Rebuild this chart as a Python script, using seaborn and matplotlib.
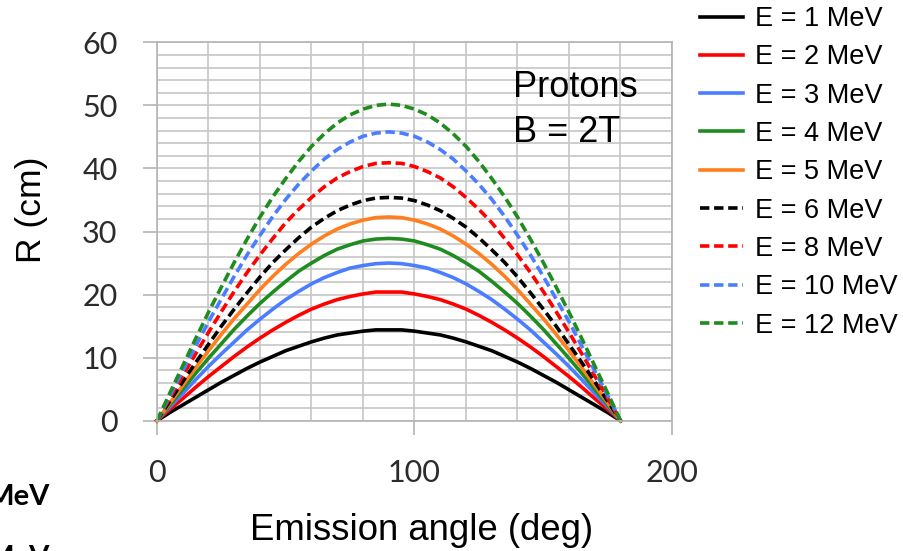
import numpy as np
import pandas as pd
import matplotlib
matplotlib.use("Agg")
import matplotlib.pyplot as plt
import seaborn as sns

# Emission angle (deg), every 5 degrees
angles = list(range(0, 181, 5))

# R (cm), one list per energy
r_1mev = [0, 1.3, 2.5, 3.7, 4.9, 6.1, 7.2, 8.3, 9.3, 10.2, 11.1, 11.8, 12.5, 13.1, 13.6, 13.9, 14.2, 14.4, 14.4,
          14.4, 14.2, 13.9, 13.6, 13.1, 12.5, 11.8, 11.1, 10.2, 9.3, 8.3, 7.2, 6.1, 4.9, 3.7, 2.5, 1.3, 0]
r_2mev = [0, 1.8, 3.5, 5.3, 7.0, 8.6, 10.2, 11.7, 13.1, 14.4, 15.6, 16.7, 17.7, 18.5, 19.2, 19.7, 20.1, 20.4, 20.4,
          20.4, 20.1, 19.7, 19.2, 18.5, 17.7, 16.7, 15.6, 14.4, 13.1, 11.7, 10.2, 8.6, 7.0, 5.3, 3.5, 1.8, 0]
r_3mev = [0, 2.2, 4.3, 6.5, 8.6, 10.6, 12.5, 14.4, 16.1, 17.7, 19.2, 20.5, 21.7, 22.7, 23.5, 24.2, 24.6, 24.9, 25.0,
          24.9, 24.6, 24.2, 23.5, 22.7, 21.7, 20.5, 19.2, 17.7, 16.1, 14.4, 12.5, 10.6, 8.6, 6.5, 4.3, 2.2, 0]
r_4mev = [0, 2.5, 5.0, 7.5, 9.9, 12.2, 14.5, 16.6, 18.6, 20.4, 22.1, 23.7, 25.0, 26.2, 27.2, 27.9, 28.5, 28.8, 28.9,
          28.8, 28.5, 27.9, 27.2, 26.2, 25.0, 23.7, 22.1, 20.4, 18.6, 16.6, 14.5, 12.2, 9.9, 7.5, 5.0, 2.5, 0]
r_5mev = [0, 2.8, 5.6, 8.4, 11.1, 13.7, 16.2, 18.5, 20.8, 22.9, 24.8, 26.5, 28.0, 29.3, 30.4, 31.2, 31.8, 32.2, 32.3,
          32.2, 31.8, 31.2, 30.4, 29.3, 28.0, 26.5, 24.8, 22.9, 20.8, 18.5, 16.2, 13.7, 11.1, 8.4, 5.6, 2.8, 0]
r_6mev = [0, 3.1, 6.2, 9.2, 12.1, 15.0, 17.7, 20.3, 22.8, 25.1, 27.1, 29.0, 30.7, 32.1, 33.3, 34.2, 34.9, 35.3, 35.4,
          35.3, 34.9, 34.2, 33.3, 32.1, 30.7, 29.0, 27.1, 25.1, 22.8, 20.3, 17.7, 15.0, 12.1, 9.2, 6.2, 3.1, 0]
r_8mev = [0, 3.6, 7.1, 10.6, 14.0, 17.3, 20.5, 23.5, 26.3, 28.9, 31.4, 33.5, 35.4, 37.1, 38.5, 39.5, 40.3, 40.8, 40.9,
          40.8, 40.3, 39.5, 38.5, 37.1, 35.4, 33.5, 31.4, 28.9, 26.3, 23.5, 20.5, 17.3, 14.0, 10.6, 7.1, 3.6, 0]
r_10mev = [0, 4.0, 7.9, 11.8, 15.7, 19.3, 22.9, 26.3, 29.4, 32.4, 35.1, 37.5, 39.6, 41.5, 43.0, 44.2, 45.1, 45.6, 45.8,
           45.6, 45.1, 44.2, 43.0, 41.5, 39.6, 37.5, 35.1, 32.4, 29.4, 26.3, 22.9, 19.3, 15.7, 11.8, 7.9, 4.0, 0]
r_12mev = [0, 4.4, 8.7, 13.0, 17.2, 21.2, 25.1, 28.8, 32.3, 35.5, 38.4, 41.1, 43.5, 45.5, 47.2, 48.5, 49.4, 50.0, 50.2,
           50.0, 49.4, 48.5, 47.2, 45.5, 43.5, 41.1, 38.4, 35.5, 32.3, 28.8, 25.1, 21.2, 17.2, 13.0, 8.7, 4.4, 0]

labels = ["E = 1 MeV", "E = 2 MeV", "E = 3 MeV", "E = 4 MeV", "E = 5 MeV",
          "E = 6 MeV", "E = 8 MeV", "E = 10 MeV", "E = 12 MeV"]
all_r = [r_1mev, r_2mev, r_3mev, r_4mev, r_5mev, r_6mev, r_8mev, r_10mev, r_12mev]

# styles
colors = ["#000000", "#ff0000", "#4a7dff", "#1e8c1e", "#ff7f1e",
          "#000000", "#ff0000", "#4a7dff", "#1e8c1e"]
dashed = [False, False, False, False, False, True, True, True, True]

df = pd.DataFrame({
    "angle": angles * len(labels),
    "R": [v for r in all_r for v in r],
    "series": [lab for lab in labels for _ in angles],
})

fig = plt.figure(figsize=(9.04, 5.51), dpi=100)
W, H = 904, 551
ax = fig.add_axes([157 / W, 1 - 420.7 / H, 515 / W, 378.4 / H])

for lab, c, d in zip(labels, colors, dashed):
    ls = (0, (2.6, 1.3)) if d else "-"
    sns.lineplot(data=df[df["series"] == lab], x="angle", y="R", ax=ax,
                 color=c, lw=2.6, linestyle=ls, label=lab, sort=False,
                 errorbar=None, clip_on=False)

ax.set_xlim(0, 200)
ax.set_ylim(0, 60)
ax.set_xticks([0, 100, 200])
ax.set_yticks(range(0, 61, 10))
ax.set_xticks(range(0, 201, 20), minor=True)
ax.set_yticks(range(0, 61, 2), minor=True)
ax.grid(which="both", color="#c6c6c6", lw=1.2)
ax.set_axisbelow(True)
for s in ax.spines.values():
    s.set_color("#b4b4b4")
    s.set_linewidth(1.2)
ax.tick_params(which="minor", length=0)
ax.tick_params(which="major", length=10, width=1.2, color="#b4b4b4",
               labelsize=22, labelcolor="#2b2b2b")
ax.tick_params(axis="x", pad=17.5)
ax.tick_params(axis="y", pad=18.5)
for t in ax.get_xticklabels() + ax.get_yticklabels():
    t.set_family("Lato")
ax.set_xlabel("")
ax.set_ylabel("")

# axis titles
fig.text(32 / W, 1 - 210 / H, "R (cm)", rotation=90, ha="center", va="center",
         fontsize=25.5, family="Liberation Sans")
fig.text(250 / W, 1 - 540 / H, "Emission angle (deg)", ha="left", va="baseline",
         fontsize=26.3, family="Liberation Sans")

# annotation inside the plot
ax.text(138.3, 51.3, "Protons", ha="left", va="baseline", fontsize=26,
        family="Liberation Sans")
ax.text(138.3, 44.2, "B = 2T", ha="left", va="baseline", fontsize=26,
        family="Liberation Sans")

handles, labs = ax.get_legend_handles_labels()
ax.legend(handles, labs, loc="upper left", bbox_to_anchor=(700 / W, 1 - 6 / H),
          bbox_transform=fig.transFigure, frameon=False,
          prop={"family": "Liberation Sans", "size": 19.5},
          handlelength=1.6, handletextpad=0.43, labelspacing=0.455,
          borderpad=0, borderaxespad=0)

# cropped leftovers at the lower left edge
fig.text(50 / W, 1 - 505 / H, "MeV", ha="right", va="baseline", fontsize=21,
         fontweight="bold", family="Lato")
fig.text(50 / W, 1 - 566 / H, "MeV", ha="right", va="baseline", fontsize=21,
         fontweight="bold", family="Lato")

fig.savefig("out.png", dpi=100)
